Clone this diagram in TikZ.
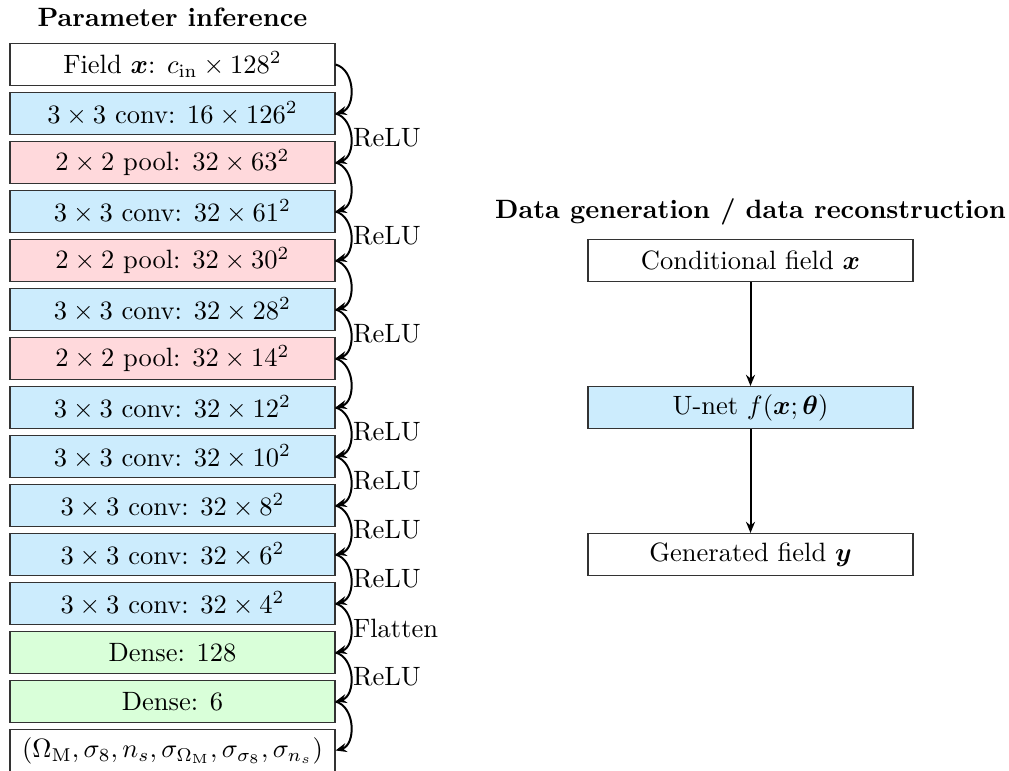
\documentclass[tikz,border=0pt]{standalone}
\usepackage{amsmath}
\usetikzlibrary{arrows.meta}
\definecolor{convblue}{RGB}{204,236,253}
\definecolor{poolred}{RGB}{255,217,220}
\definecolor{densegreen}{RGB}{217,255,217}
\newdimen\pxu
\pxu=0.3774pt
\tikzset{
  layer/.style={draw=black!80, line width=0.4pt, minimum width=325\pxu, minimum height=42\pxu, inner sep=0pt, anchor=center},
  convbox/.style={layer, fill=convblue},
  poolbox/.style={layer, fill=poolred},
  densebox/.style={layer, fill=densegreen},
  plainbox/.style={layer, fill=white},
  flow/.style={-{Stealth[length=4.2pt,width=3.4pt]}, line width=0.75pt, bend left=75, looseness=1.1},
  vflow/.style={-{Stealth[length=4.2pt,width=3.4pt]}, line width=0.75pt},
  lbl/.style={midway, right, inner sep=0.5pt},
  ttl/.style={font=\bfseries}
}
\begin{document}
\begin{tikzpicture}[x=\pxu,y=-\pxu]
\useasboundingbox (0,0) rectangle (1009,771);
\node[ttl] (t1) at (172.5,17) {Parameter inference};
\node[plainbox] (b0) at (172.5,64.5) {Field $\boldsymbol{x}$: $c_\mathrm{in}\times 128^2$};
\node[convbox] (b1) at (172.5,113.5) {$3\times3$ conv: $16\times126^2$};
\node[poolbox] (b2) at (172.5,162.5) {$2\times2$ pool: $32\times63^2$};
\node[convbox] (b3) at (172.5,211.5) {$3\times3$ conv: $32\times61^2$};
\node[poolbox] (b4) at (172.5,260.5) {$2\times2$ pool: $32\times30^2$};
\node[convbox] (b5) at (172.5,309.5) {$3\times3$ conv: $32\times28^2$};
\node[poolbox] (b6) at (172.5,358.5) {$2\times2$ pool: $32\times14^2$};
\node[convbox] (b7) at (172.5,407.5) {$3\times3$ conv: $32\times12^2$};
\node[convbox] (b8) at (172.5,456.5) {$3\times3$ conv: $32\times10^2$};
\node[convbox] (b9) at (172.5,505.5) {$3\times3$ conv: $32\times8^2$};
\node[convbox] (b10) at (172.5,554.5) {$3\times3$ conv: $32\times6^2$};
\node[convbox] (b11) at (172.5,603.5) {$3\times3$ conv: $32\times4^2$};
\node[densebox] (b12) at (172.5,652.5) {Dense: $128$};
\node[densebox] (b13) at (172.5,701.5) {Dense: $6$};
\node[plainbox] (b14) at (172.5,750.5) {$(\Omega_\mathrm{M},\sigma_8,n_s,\sigma_{\Omega_\mathrm{M}},\sigma_{\sigma_8},\sigma_{n_s})$};
\draw[flow] (b0.east) to (b1.east);
\draw[flow] (b1.east) to node[lbl] (l1) {ReLU} (b2.east);
\draw[flow] (b2.east) to (b3.east);
\draw[flow] (b3.east) to node[lbl] (l3) {ReLU} (b4.east);
\draw[flow] (b4.east) to (b5.east);
\draw[flow] (b5.east) to node[lbl] (l5) {ReLU} (b6.east);
\draw[flow] (b6.east) to (b7.east);
\draw[flow] (b7.east) to node[lbl] (l7) {ReLU} (b8.east);
\draw[flow] (b8.east) to node[lbl] (l8) {ReLU} (b9.east);
\draw[flow] (b9.east) to node[lbl] (l9) {ReLU} (b10.east);
\draw[flow] (b10.east) to node[lbl] (l10) {ReLU} (b11.east);
\draw[flow] (b11.east) to node[lbl] (l11) {Flatten} (b12.east);
\draw[flow] (b12.east) to node[lbl] (l12) {ReLU} (b13.east);
\draw[flow] (b13.east) to (b14.east);
\node[ttl] (t2) at (750.5,211.5) {Data generation / data reconstruction};
\node[plainbox] (c0) at (750.5,260.5) {Conditional field $\boldsymbol{x}$};
\node[convbox] (c1) at (750.5,407.5) {U-net $f(\boldsymbol{x};\boldsymbol{\theta})$};
\node[plainbox] (c2) at (750.5,554.5) {Generated field $\boldsymbol{y}$};
\draw[vflow] (c0) -- (c1);
\draw[vflow] (c1) -- (c2);
\end{tikzpicture}
\end{document}
